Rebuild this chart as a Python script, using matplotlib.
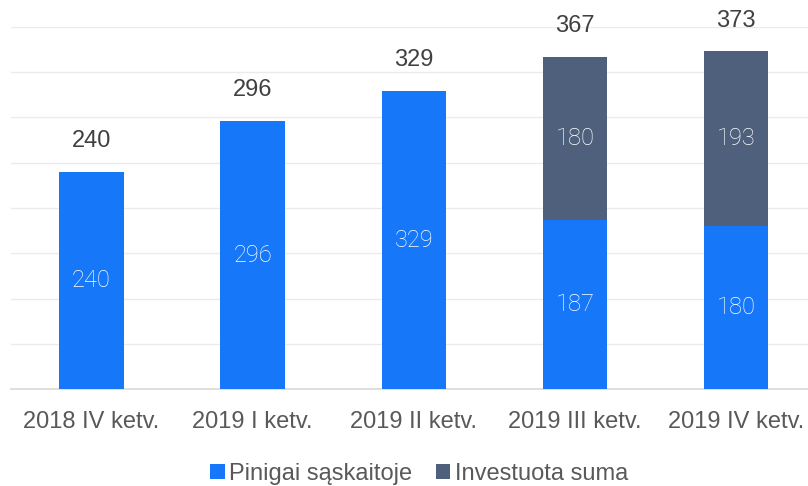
import matplotlib.pyplot as plt
import numpy as np

quarters = ["2018 IV ketv.", "2019 I ketv.", "2019 II ketv.", "2019 III ketv.", "2019 IV ketv."]
cash = [240, 296, 329, 187, 180]
invested = [0, 0, 0, 180, 193]
legend_labels = ["Pinigai sąskaitoje", "Investuota suma"]

BLUE = "#1677f8"
SLATE = "#4f607d"

plt.rcParams["font.family"] = ["Liberation Sans", "DejaVu Sans"]

fig = plt.figure(figsize=(8.08, 4.86), dpi=100)
ax = fig.add_axes([11 / 808, 97 / 486, 1 - 11 / 808, 362 / 486])

x = np.arange(len(quarters))
cash = np.array(cash)
invested = np.array(invested)
totals = cash + invested

ax.bar(x, cash, width=0.4, color=BLUE, label=legend_labels[0], zorder=3)
ax.bar(x, invested, width=0.4, bottom=cash, color=SLATE, label=legend_labels[1], zorder=3)

inner = dict(ha="center", va="center", color="white", fontsize=17,
             family=["Roboto", "DejaVu Sans"], fontweight="light", zorder=4)
for i in x:
    ax.text(i, cash[i] / 2, str(cash[i]), **inner)
    if invested[i] > 0:
        ax.text(i, cash[i] + invested[i] / 2, str(invested[i]), **inner)
    ax.text(i, totals[i] + 22, str(totals[i]), ha="center", va="bottom",
            color="#404040", fontsize=17, clip_on=False)

ax.set_xlim(-0.5, 4.447)
ax.set_ylim(0, 400)
ax.set_yticks(np.arange(0, 401, 50))
ax.yaxis.grid(True, color="#ebebeb", linewidth=1, zorder=0)
ax.tick_params(axis="y", left=False, labelleft=False)
ax.tick_params(axis="x", bottom=False, pad=12, labelsize=17, labelcolor="#595959")
ax.set_xticks(x)
ax.set_xticklabels(quarters)
for s in ["top", "right", "left"]:
    ax.spines[s].set_visible(False)
ax.spines["bottom"].set_color("#d9d9d9")
ax.spines["bottom"].set_linewidth(1.2)

fig.legend(loc="center", bbox_to_anchor=(0.519, 12 / 486), ncol=2, frameon=False,
           fontsize=17, handlelength=0.6, handleheight=0.6, handletextpad=0.2,
           columnspacing=1.0, labelcolor="#595959", borderaxespad=0)

fig.savefig("out.png", dpi=100)
